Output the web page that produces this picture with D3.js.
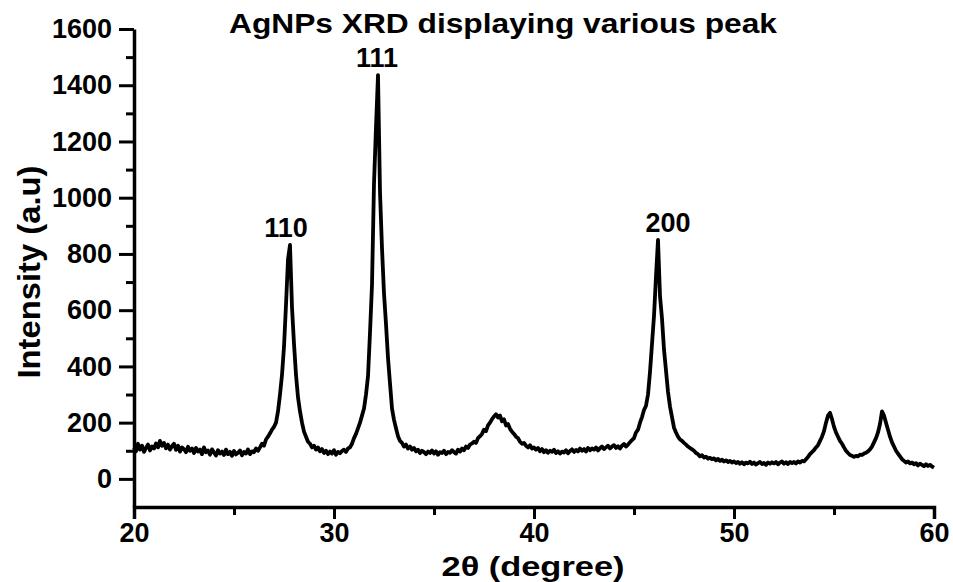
<!DOCTYPE html>
<html>
<head>
<meta charset="utf-8">
<script src="https://cdn.jsdelivr.net/npm/d3@7"></script>
<style>
  body { margin: 0; background: #fff; }
  text { font-family: "Liberation Sans", Arial, sans-serif; font-weight: bold; fill: #000; }
</style>
</head>
<body>
<div id="viz"></div>
<script>
'use strict';

// scan: 20 to 60 degree, step 0.1
const scanStart = 20;
const scanStep = 0.1;
const intensity = [
    112, 98, 125, 104, 118, 96, 110, 122, 101, 115,
    108, 126, 112, 135, 118, 128, 109, 122, 104, 116,
    125, 103, 118, 97, 112, 106, 95, 114, 100, 108,
    92, 110, 97, 104, 88, 112, 95, 101, 86, 105,
    94, 83, 102, 90, 97, 85, 104, 88, 96, 82,
    99, 87, 93, 101, 84, 96, 90, 105, 88, 98,
    95, 108, 100, 112, 125, 118, 140, 150, 162, 175,
    185, 200, 240, 300, 370, 470, 620, 780, 832, 610,
    480, 370, 290, 240, 200, 168, 150, 132, 125, 112,
    118, 104, 112, 98, 106, 92, 100, 88, 97, 90,
    102, 86, 96, 91, 99, 104, 96, 108, 112, 125,
    145, 160, 180, 200, 225, 250, 300, 365, 520, 690,
    1050, 1250, 1436, 1020, 820, 660, 550, 430, 340, 250,
    210, 180, 152, 135, 128, 115, 122, 108, 115, 104,
    110, 98, 104, 92, 100, 95, 88, 97, 92, 101,
    90, 98, 86, 95, 92, 100, 88, 96, 93, 102,
    95, 90, 104, 97, 108, 102, 115, 110, 122, 126,
    132, 128, 145, 152, 160, 175, 170, 190, 200, 212,
    222, 230, 218, 225, 205, 212, 190, 195, 178, 168,
    160, 150, 145, 132, 125, 128, 118, 112, 120, 108,
    112, 104, 110, 98, 106, 95, 102, 93, 100, 96,
    104, 92, 98, 90, 97, 94, 102, 91, 99, 105,
    96, 103, 98, 108, 100, 106, 97, 110, 102, 108,
    104, 112, 101, 109, 115, 106, 112, 118, 108, 115,
    120, 110, 116, 108, 118, 124, 115, 122, 130, 138,
    145, 165, 175, 200, 220, 245, 260, 300, 380, 480,
    580, 720, 850, 650, 570, 460, 385, 310, 257, 220,
    182, 165, 150, 140, 135, 128, 122, 115, 110, 105,
    100, 92, 88, 80, 84, 76, 79, 72, 75, 70,
    73, 66, 71, 64, 68, 62, 66, 60, 64, 58,
    62, 56, 60, 54, 59, 52, 58, 55, 61, 53,
    58, 51, 56, 60, 53, 57, 50, 58, 54, 59,
    55, 60, 52, 58, 62, 54, 59, 53, 60, 56,
    60, 55, 62, 58, 64, 62, 70, 78, 88, 95,
    102, 112, 120, 135, 150, 170, 200, 225, 235, 212,
    185, 165, 150, 135, 125, 112, 100, 92, 85, 82,
    78, 82, 80, 86, 85, 90, 93, 98, 105, 115,
    130, 145, 165, 195, 240, 225, 200, 175, 150, 130,
    115, 100, 90, 80, 70, 64, 58, 62, 55, 58,
    52, 56, 48, 54, 50, 45, 52, 46, 50, 44,
    40
];

const peakLabels = ['110', '111', '200'];
const peakLabelPositions = [27.6, 32.15, 46.7];
const peakHeights = [832, 1436, 850];

const xMajorTicks = [20, 30, 40, 50, 60];
const xMinorTicks = [25, 35, 45, 55];
const yMajorTicks = [0, 200, 400, 600, 800, 1000, 1200, 1400, 1600];
const yMinorTicks = [100, 300, 500, 700, 900, 1100, 1300, 1500];

const title = 'AgNPs XRD displaying various peak';
const xLabel = '2θ (degree)';
const yLabel = 'Intensity (a.u)';

const W = 953, H = 582;
const margin = { top: 29, right: 19, bottom: 75, left: 134 };
const width = W - margin.left - margin.right;
const height = H - margin.top - margin.bottom;

const svg = d3.select('#viz').append('svg')
    .attr('width', W)
    .attr('height', H);

const g = svg.append('g')
    .attr('transform', `translate(${margin.left},${margin.top})`);

const xScale = d3.scaleLinear().domain([20, 60]).range([0, width]);
const yScale = d3.scaleLinear().domain([-100, 1600]).range([height, 0]);

const data = intensity.map((v, i) => ({ x: scanStart + i * scanStep, y: v }));

// curve
g.append('path')
    .datum(data)
    .attr('fill', 'none')
    .attr('stroke', '#000')
    .attr('stroke-width', 3.8)
    .attr('stroke-linejoin', 'round')
    .attr('d', d3.line().x(d => xScale(d.x)).y(d => yScale(d.y)));

// axes
g.append('g')
    .attr('transform', `translate(0,${height})`)
    .call(d3.axisBottom(xScale).tickValues(xMajorTicks).tickSize(12).tickPadding(4).tickFormat(d3.format('d')));
g.append('g')
    .attr('transform', `translate(0,${height})`)
    .call(d3.axisBottom(xScale).tickValues(xMinorTicks).tickSize(8).tickFormat(''))
    .select('.domain').remove();

g.append('g')
    .call(d3.axisLeft(yScale).tickValues(yMajorTicks).tickSize(15).tickPadding(7).tickSizeOuter(0).tickFormat(d3.format('d')));
g.append('g')
    .call(d3.axisLeft(yScale).tickValues(yMinorTicks).tickSize(8).tickFormat(''))
    .select('.domain').remove();

g.selectAll('.domain').attr('stroke', '#000').attr('stroke-width', 3.5);
g.selectAll('.tick line').attr('stroke', '#000').attr('stroke-width', 3);
g.selectAll('.tick text').style('font-size', '27px').style('font-family', '"Liberation Sans", Arial, sans-serif').style('font-weight', 'bold');

// peak labels
g.selectAll('.peak-label')
    .data(peakLabels)
    .enter().append('text')
    .attr('class', 'peak-label')
    .attr('x', (d, i) => xScale(peakLabelPositions[i]))
    .attr('y', (d, i) => yScale(peakHeights[i]) - 8)
    .attr('text-anchor', 'middle')
    .style('font-size', '27px')
    .text(d => d);

// titles
svg.append('text')
    .attr('x', 503).attr('y', 33)
    .attr('text-anchor', 'middle')
    .attr('textLength', 548)
    .attr('lengthAdjust', 'spacingAndGlyphs')
    .style('font-size', '28px')
    .text(title);

svg.append('text')
    .attr('x', 533).attr('y', 576)
    .attr('text-anchor', 'middle')
    .attr('textLength', 183)
    .attr('lengthAdjust', 'spacingAndGlyphs')
    .style('font-size', '28px')
    .text(xLabel);

svg.append('text')
    .attr('transform', 'translate(40,272) rotate(-90)')
    .attr('text-anchor', 'middle')
    .attr('textLength', 213)
    .attr('lengthAdjust', 'spacingAndGlyphs')
    .style('font-size', '31px')
    .text(yLabel);
</script>
</body>
</html>
